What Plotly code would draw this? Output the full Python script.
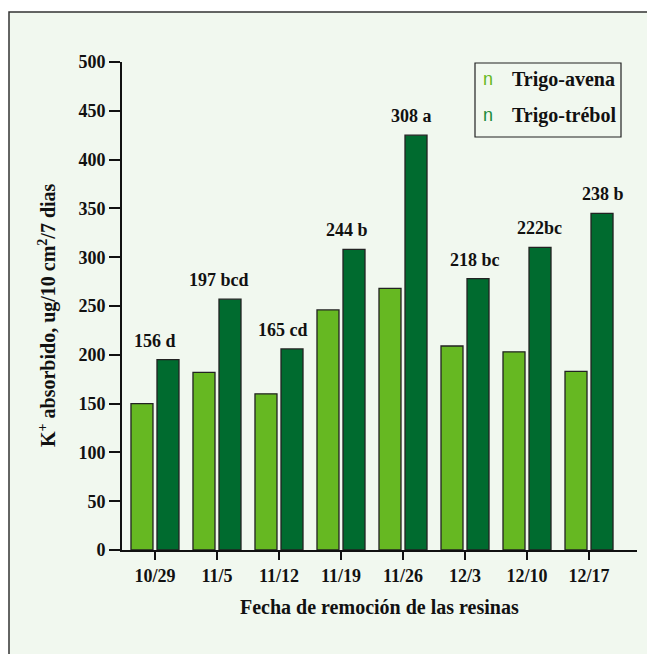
import plotly.graph_objects as go

categories = ["10/29", "11/5", "11/12", "11/19", "11/26", "12/3", "12/10", "12/17"]
trigo_avena = [150, 182, 160, 246, 268, 209, 203, 183]
trigo_trebol = [195, 257, 206, 308, 425, 278, 310, 345]
group_labels = ["156 d", "197 bcd", "165 cd", "244 b", "308 a", "218 bc", "222bc", "238 b"]
series_names = ["Trigo-avena", "Trigo-trébol"]
y_ticks = [0, 50, 100, 150, 200, 250, 300, 350, 400, 450, 500]

SERIF = "Liberation Serif"
C_AVENA = "#66B822"
C_TREBOL = "#006B2F"
BG = "#F1F8EF"

W, H = 647, 654
ML, MT = 122, 62
PW, PH = 515, 488
MR, MB = W - ML - PW, H - MT - PH


def px(x):
    return (x - ML) / PW


def py(y):
    return (MT + PH - y) / PH


fig = go.Figure()
fig.add_trace(go.Bar(x=categories, y=trigo_avena, name=series_names[0],
                     marker=dict(color=C_AVENA, line=dict(color="#222222", width=1.3))))
fig.add_trace(go.Bar(x=categories, y=trigo_trebol, name=series_names[1],
                     marker=dict(color=C_TREBOL, line=dict(color="#222222", width=1.3))))

annotations = []
for i, (c, v, t) in enumerate(zip(categories, trigo_trebol, group_labels)):
    annotations.append(dict(x=c, y=v, text=t, showarrow=False, xref="x", yref="y",
                            yanchor="bottom", xanchor="center", yshift=7, xshift=2 * i,
                            font=dict(family=SERIF, size=18, color="#111", weight="bold")))

# axis titles
annotations.append(dict(x=px(379), y=py(607), xref="paper", yref="paper", showarrow=False,
                        xanchor="center", yanchor="middle",
                        text="Fecha de remoción de las resinas",
                        font=dict(family=SERIF, size=20, color="#111", weight="bold")))
annotations.append(dict(x=px(47), y=py(315), xref="paper", yref="paper", showarrow=False,
                        xanchor="center", yanchor="middle", textangle=-90,
                        text="K<sup>+</sup> absorbido, ug/10 cm<sup>2</sup>/7 dias",
                        font=dict(family=SERIF, size=20, color="#111", weight="bold")))

# legend built from text
leg_rows = [(79, C_AVENA, series_names[0]), (115, "#1E8C3C", series_names[1])]
for yy, col, name in leg_rows:
    annotations.append(dict(x=px(488), y=py(yy), xref="paper", yref="paper", showarrow=False,
                            text="n", xanchor="center", yanchor="middle",
                            font=dict(family="Liberation Sans", size=18, color=col)))
    annotations.append(dict(x=px(510), y=py(yy), xref="paper", yref="paper", showarrow=False,
                            text=name, xanchor="left", yanchor="middle",
                            font=dict(family=SERIF, size=20, color="#111", weight="bold")))

shapes = [
    dict(type="rect", xref="paper", yref="paper", x0=px(9), x1=px(720), y0=py(740), y1=py(12),
         line=dict(color="#333333", width=1.5), fillcolor=BG, layer="below"),
    dict(type="rect", xref="paper", yref="paper", x0=px(475), x1=px(621), y0=py(137), y1=py(63),
         line=dict(color="#222222", width=1.2), fillcolor="rgba(0,0,0,0)", layer="above"),
]

fig.update_layout(
    width=W, height=H,
    margin=dict(l=ML, r=MR, t=MT, b=MB, pad=0),
    paper_bgcolor="white",
    plot_bgcolor="rgba(0,0,0,0)",
    barmode="group",
    bargap=0.161,
    bargroupgap=0.154,
    showlegend=False,
    annotations=annotations,
    shapes=shapes,
    xaxis=dict(type="category", range=[-0.532, 7.774], showline=True, linecolor="#111",
               linewidth=2, ticks="outside", ticklen=8, tickwidth=2, tickcolor="#111",
               showgrid=False, zeroline=False,
               tickfont=dict(family=SERIF, size=18, color="#111", weight="bold")),
    yaxis=dict(range=[0, 500], tickvals=y_ticks, showline=True, linecolor="#111", linewidth=2,
               ticks="outside", ticklen=11, tickwidth=2, tickcolor="#111", showgrid=False,
               zeroline=False,
               tickfont=dict(family=SERIF, size=18, color="#111", weight="bold")),
)

fig.write_html(
    "out.html",
    config={"displayModeBar": False},
    post_script=(
        "document.body.style.margin='0px';"
        "document.documentElement.style.overflow='hidden';"
        "document.body.style.overflow='hidden';"
        "document.documentElement.style.scrollbarWidth='none';"
        "var s=document.createElement('style');"
        "s.textContent='::-webkit-scrollbar{display:none;width:0;height:0}';"
        "document.head.appendChild(s);"
    ),
)
